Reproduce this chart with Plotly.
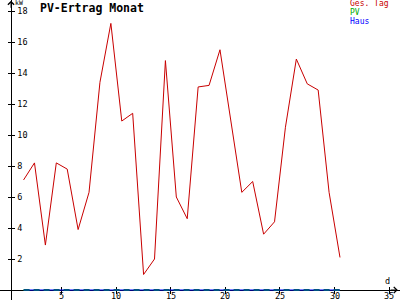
import plotly.graph_objects as go

# ---- data ----
days = list(range(1, 31))
ges_tag = [7.1, 8.2, 2.9, 8.2, 7.8, 3.9, 6.3, 13.4, 17.2, 10.9,
           11.4, 1.0, 2.0, 14.8, 6.0, 4.6, 13.1, 13.2, 15.5, 11.0,
           6.3, 7.0, 3.6, 4.4, 10.5, 14.9, 13.3, 12.9, 6.3, 2.1]
pv = [0, 0, 0, 0, 0, 0, 0, 0, 0, 0, 0, 0, 0, 0, 0,
      0, 0, 0, 0, 0, 0, 0, 0, 0, 0, 0, 0, 0, 0, 0]
haus = [0, 0, 0, 0, 0, 0, 0, 0, 0, 0, 0, 0, 0, 0, 0,
        0, 0, 0, 0, 0, 0, 0, 0, 0, 0, 0, 0, 0, 0, 0]
series_names = ["Ges. Tag", "PV", "Haus"]
series_colors = ["#c80000", "#00a800", "#0000ff"]
x_ticks = [5, 10, 15, 20, 25, 30, 35]
y_ticks = [2, 4, 6, 8, 10, 12, 14, 16, 18]
title = "PV-Ertrag Monat"
y_unit = "kW"
x_unit = "d"

# day d is drawn at the centre of its bin [d, d+1]
xpos = [d + 0.5 for d in days]

MONO = "DejaVu Sans Mono"
XR = [-0.66, 36.0]
YR = [-0.645, 18.71]
YAX_X = 0.35   # x value where the y axis sits
YAX_POS = (7.2 + 10.91 * YAX_X) / 400
XAX_POS = 10 / 300

fig = go.Figure()
fig.add_trace(go.Scatter(x=xpos, y=pv, mode="lines", name=series_names[1],
                         line=dict(color=series_colors[1], width=2, dash="6px,4px")))
fig.add_trace(go.Scatter(x=xpos, y=haus, mode="lines", name=series_names[2],
                         line=dict(color=series_colors[2], width=1)))
fig.add_trace(go.Scatter(x=xpos, y=ges_tag, mode="lines", name=series_names[0],
                         line=dict(color=series_colors[0], width=1)))
# empty helper trace so the overlay axes (inner tick halves) are drawn
fig.add_trace(go.Scatter(x=[], y=[], xaxis="x2", yaxis="y2", showlegend=False,
                         hoverinfo="skip"))

axis_common = dict(showgrid=False, zeroline=False, tickcolor="black", ticklen=3,
                   tickwidth=1, automargin=False, layer="below traces")
fig.update_layout(
    template="none",
    width=400, height=300,
    margin=dict(l=0, r=0, t=0, b=0, pad=0),
    paper_bgcolor="white", plot_bgcolor="white",
    showlegend=False,
    xaxis=dict(range=XR, anchor="free", position=XAX_POS, showline=True,
               linecolor="black", linewidth=1, ticks="outside",
               tickvals=x_ticks, showticklabels=False,
               **axis_common),
    yaxis=dict(range=YR, anchor="free", position=YAX_POS,
               showline=True, linecolor="black", linewidth=1, ticks="outside",
               ticklabelposition="inside", ticklabelstandoff=4,
               tickvals=y_ticks, ticktext=[str(v) for v in y_ticks],
               tickfont=dict(family=MONO, size=8.5, color="black"),
               **axis_common),
    xaxis2=dict(range=XR, overlaying="x", anchor="free", position=XAX_POS,
                showline=False, ticks="inside", tickvals=x_ticks,
                showticklabels=False, **axis_common),
    yaxis2=dict(range=YR, overlaying="y", anchor="free", position=YAX_POS,
                showline=False, ticks="inside", tickvals=y_ticks,
                showticklabels=False, **axis_common),
)

ann = []
# x tick labels, placed at the tick values on the x axis scale
for v in x_ticks:
    ann.append(dict(text=str(v), xref="x", yref="paper", x=v, y=1 - 296 / 300,
                    xanchor="center", yanchor="middle", showarrow=False, borderpad=0,
                    font=dict(family=MONO, size=8.5, color="black")))
ann.append(dict(text="<b>" + title + "</b>", xref="paper", yref="paper",
                x=38 / 400, y=1 - 8 / 300, xanchor="left", yanchor="middle",
                showarrow=False, font=dict(family=MONO, size=11.5, color="black")))
for i, (nm, col) in enumerate(zip(series_names, series_colors)):
    ann.append(dict(text=nm, xref="paper", yref="paper", x=349 / 400,
                    y=1 - (4 + 8.5 * i) / 300, xanchor="left", yanchor="middle",
                    showarrow=False, borderpad=0,
                    font=dict(family=MONO, size=8, color=col)))
ann.append(dict(text=y_unit, xref="paper", yref="paper", x=14 / 400, y=1 - 3 / 300,
                xanchor="left", yanchor="middle", showarrow=False, borderpad=0,
                font=dict(family=MONO, size=6.5, color="black")))
ann.append(dict(text=x_unit, xref="paper", yref="paper", x=387 / 400, y=1 - 281 / 300,
                xanchor="center", yanchor="middle", showarrow=False,
                font=dict(family=MONO, size=8.5, color="black")))
# axis arrowheads
ann.append(dict(x=YAX_X, y=YR[1] - 0.05, ax=YAX_X, ay=YR[1] - 0.6, xref="x", yref="y",
                axref="x", ayref="y", text="", showarrow=True, arrowhead=4,
                arrowsize=1.2, arrowwidth=1, arrowcolor="black"))
ann.append(dict(x=35.8, y=0, ax=35.0, ay=0, xref="x", yref="y",
                axref="x", ayref="y", text="", showarrow=True, arrowhead=4,
                arrowsize=1.2, arrowwidth=1, arrowcolor="black"))
fig.update_layout(annotations=ann)

fig.write_html("out.html")
